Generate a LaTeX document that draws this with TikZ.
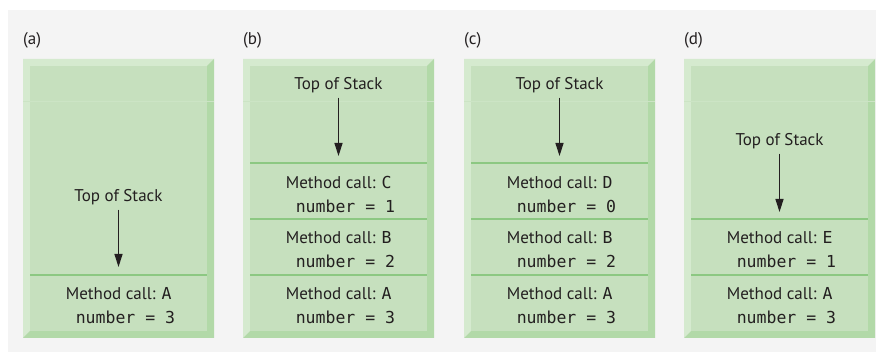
\documentclass[tikz,border=0pt]{standalone}
\usepackage{fontspec}
\setmainfont{PT Sans}
\setmonofont{DejaVu Sans Mono}
\usetikzlibrary{arrows.meta, positioning}
\definecolor{bggray}{RGB}{244,244,244}
\definecolor{stackface}{RGB}{198,224,190}
\definecolor{stacklight}{RGB}{213,234,207}
\definecolor{stackdark}{RGB}{178,217,168}
\definecolor{stackfaint}{RGB}{204,228,197}
\definecolor{stackline}{RGB}{140,200,130}
\definecolor{inkgray}{RGB}{35,31,32}
\tikzset{
  panellabel/.style={anchor=west, font=\fontsize{17}{20}\selectfont,
    text=inkgray, inner sep=0pt},
  topnode/.style={anchor=base, font=\fontsize{17}{20}\selectfont,
    text=inkgray, inner sep=0pt},
  callnode/.style={align=left, font=\fontsize{17}{24}\selectfont,
    text=inkgray, inner sep=0pt},
  divider/.style={stackline, line width=2pt},
  arrow/.style={-{Triangle[length=13pt, width=8pt]}, line width=1.4pt,
    color=inkgray, shorten <=4pt}
}
\newcommand{\callname}[1]{\texttt{\fontsize{16.5}{24}\selectfont #1}}
\newcommand{\numline}[1]{\texttt{\fontsize{16.5}{24}\selectfont\ number = #1}}

\begin{document}
\begin{tikzpicture}[x=1pt, y=-1pt]
  \useasboundingbox (0,0) rectangle (876,352);
  \fill[white] (0,0) rectangle (876,352);
  \fill[bggray] (8,10) rectangle (876,352);

  % bevelled stack frames
  \foreach \x in {23,243,464,684} {
    \fill[stacklight] (\x,59) -- (\x+191,59) -- (\x+184,66) -- (\x+7,66)
      -- (\x+7,331) -- (\x,338) -- cycle;
    \fill[stackdark] (\x+191,59) -- (\x+191,338) -- (\x,338) -- (\x+7,331)
      -- (\x+184,331) -- (\x+184,66) -- cycle;
    \fill[stackface] (\x+7,66) rectangle (\x+184,331);
    \draw[stackfaint, line width=0.6pt] (\x,101) -- (\x+191,101);
  }

  % (a)
  \node[panellabel] (laba) at (23,40) {(a)};
  \node[topnode] (topa) at (118.5,202) {Top of Stack};
  \coordinate (tipa) at (118.5,267);
  \draw[divider] (30,275) -- (207,275);
  \node[callnode] (calla1) at (120.5,306) {Method call: \callname{A}\\\numline{3}};
  \draw[arrow] (topa.south) -- (tipa);

  % (b)
  \node[panellabel] (labb) at (243,40) {(b)};
  \node[topnode] (topb) at (338.5,90) {Top of Stack};
  \coordinate (tipb) at (338.5,156);
  \draw[divider] (250,163.5) -- (427,163.5);
  \draw[divider] (250,219) -- (427,219);
  \draw[divider] (250,275) -- (427,275);
  \node[callnode] (callb3) at (340.5,194.5) {Method call: \callname{C}\\\numline{1}};
  \node[callnode] (callb2) at (340.5,250) {Method call: \callname{B}\\\numline{2}};
  \node[callnode] (callb1) at (340.5,306) {Method call: \callname{A}\\\numline{3}};
  \draw[arrow] (topb.south) -- (tipb);

  % (c)
  \node[panellabel] (labc) at (464,40) {(c)};
  \node[topnode] (topc) at (559.5,90) {Top of Stack};
  \coordinate (tipc) at (559.5,156);
  \draw[divider] (471,163.5) -- (648,163.5);
  \draw[divider] (471,219) -- (648,219);
  \draw[divider] (471,275) -- (648,275);
  \node[callnode] (callc3) at (561.5,194.5) {Method call: \callname{D}\\\numline{0}};
  \node[callnode] (callc2) at (561.5,250) {Method call: \callname{B}\\\numline{2}};
  \node[callnode] (callc1) at (561.5,306) {Method call: \callname{A}\\\numline{3}};
  \draw[arrow] (topc.south) -- (tipc);

  % (d)
  \node[panellabel] (labd) at (684,40) {(d)};
  \node[topnode] (topd) at (779.5,146) {Top of Stack};
  \coordinate (tipd) at (779.5,212);
  \draw[divider] (691,219) -- (868,219);
  \draw[divider] (691,275) -- (868,275);
  \node[callnode] (calld2) at (781.5,250) {Method call: \callname{E}\\\numline{1}};
  \node[callnode] (calld1) at (781.5,306) {Method call: \callname{A}\\\numline{3}};
  \draw[arrow] (topd.south) -- (tipd);
\end{tikzpicture}
\end{document}
